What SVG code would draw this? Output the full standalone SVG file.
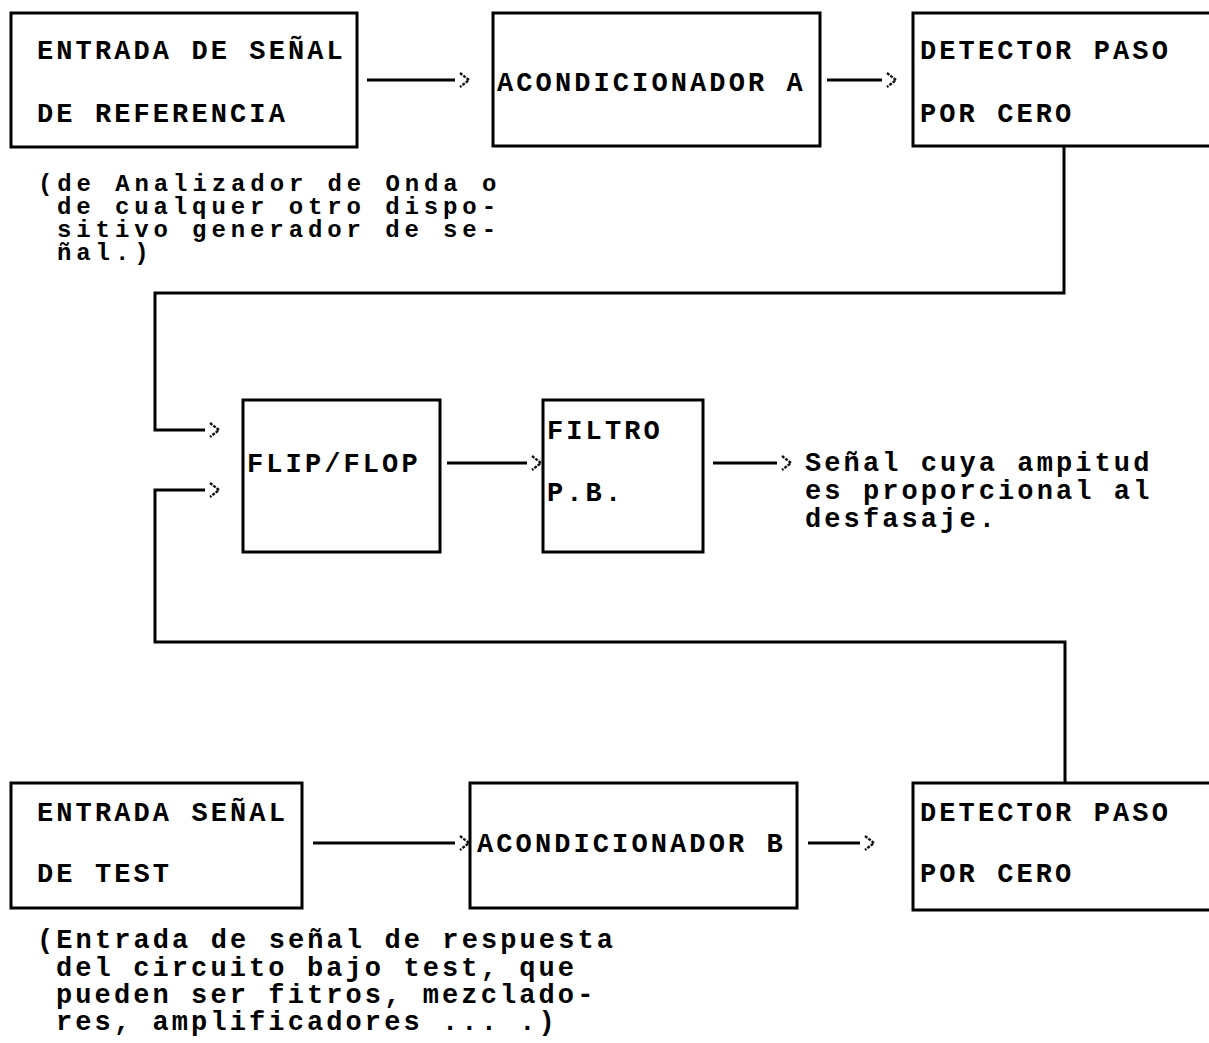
<svg xmlns="http://www.w3.org/2000/svg" width="1209" height="1043" viewBox="0 0 1209 1043">
  <style>
    .box { fill: #ffffff; stroke: #000000; stroke-width: 3; }
    .wire { fill: none; stroke: #000000; stroke-width: 3; }
    .t { font-family: "Liberation Mono", "DejaVu Sans Mono", monospace; font-size: 27px; font-weight: bold; letter-spacing: 3.1px; fill: #000000; }
    .n { font-size: 24px; letter-spacing: 4.9px; }
  </style>
  <defs>
    <marker id="chev" viewBox="0 0 12 18" markerWidth="12" markerHeight="18" refX="-4" refY="9" orient="auto" markerUnits="userSpaceOnUse" overflow="visible">
      <path d="M1,2 L10,9 L1,16" fill="none" stroke="#111" stroke-width="2.4" stroke-dasharray="3,1.2"/>
    </marker>
  </defs>
  <rect width="1209" height="1043" fill="#ffffff"/>

  <g id="connectors">
    <line class="wire" x1="367" y1="80" x2="455" y2="80" marker-end="url(#chev)"/>
    <line class="wire" x1="827" y1="80" x2="882" y2="80" marker-end="url(#chev)"/>
    <polyline class="wire" points="1064,147 1064,293 155,293 155,430 205,430" marker-end="url(#chev)"/>
    <polyline class="wire" points="1065,783 1065,642 155,642 155,490 205,490" marker-end="url(#chev)"/>
    <line class="wire" x1="447" y1="463" x2="527" y2="463" marker-end="url(#chev)"/>
    <line class="wire" x1="713" y1="463" x2="777" y2="463" marker-end="url(#chev)"/>
    <line class="wire" x1="313" y1="843" x2="455" y2="843" marker-end="url(#chev)"/>
    <line class="wire" x1="808" y1="843" x2="860" y2="843" marker-end="url(#chev)"/>
  </g>

  <g id="ref-input">
    <rect class="box" x="11" y="13" width="346" height="134"/>
    <text class="t" x="37" y="59">ENTRADA DE SEÑAL</text>
    <text class="t" x="37" y="122">DE REFERENCIA</text>
  </g>
  <g id="ref-note">
    <text class="t n" x="38" y="191">(de Analizador de Onda o</text>
    <text class="t n" x="57" y="214">de cualquer otro dispo-</text>
    <text class="t n" x="57" y="237">sitivo generador de se-</text>
    <text class="t n" x="57" y="260">ñal.)</text>
  </g>
  <g id="acond-a">
    <rect class="box" x="493" y="13" width="327" height="133"/>
    <text class="t" x="497" y="91">ACONDICIONADOR A</text>
  </g>
  <g id="detector-a">
    <rect class="box" x="913" y="13" width="300" height="133"/>
    <text class="t" x="920" y="59">DETECTOR PASO</text>
    <text class="t" x="920" y="122">POR CERO</text>
  </g>
  <g id="flipflop">
    <rect class="box" x="243" y="400" width="197" height="152"/>
    <text class="t" x="247" y="472">FLIP/FLOP</text>
  </g>
  <g id="filtro">
    <rect class="box" x="543" y="400" width="160" height="152"/>
    <text class="t" x="547" y="439">FILTRO</text>
    <text class="t" x="547" y="501">P.B.</text>
  </g>
  <g id="output-note">
    <text class="t" x="805" y="471">Señal cuya ampitud</text>
    <text class="t" x="805" y="499">es proporcional al</text>
    <text class="t" x="805" y="527">desfasaje.</text>
  </g>
  <g id="test-input">
    <rect class="box" x="11" y="783" width="291" height="125"/>
    <text class="t" x="37" y="821">ENTRADA SEÑAL</text>
    <text class="t" x="37" y="882">DE TEST</text>
  </g>
  <g id="test-note">
    <text class="t" x="37" y="948">(Entrada de señal de respuesta</text>
    <text class="t" x="56" y="976">del circuito bajo test, que</text>
    <text class="t" x="56" y="1003">pueden ser fitros, mezclado-</text>
    <text class="t" x="56" y="1030">res, amplificadores ... .)</text>
  </g>
  <g id="acond-b">
    <rect class="box" x="470" y="783" width="327" height="125"/>
    <text class="t" x="477" y="852">ACONDICIONADOR B</text>
  </g>
  <g id="detector-b">
    <rect class="box" x="913" y="783" width="300" height="127"/>
    <text class="t" x="920" y="821">DETECTOR PASO</text>
    <text class="t" x="920" y="882">POR CERO</text>
  </g>
</svg>
